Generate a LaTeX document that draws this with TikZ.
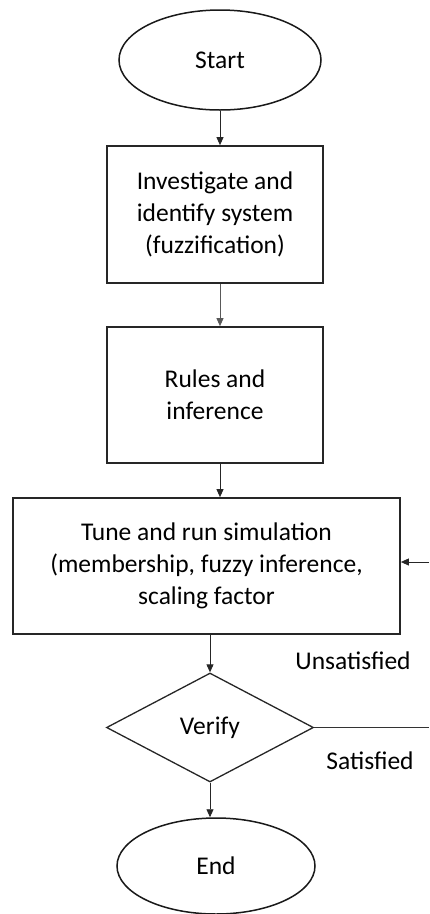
\documentclass[tikz,border=0pt]{standalone}
\usepackage{fontspec}
\setmainfont{Carlito}
\usetikzlibrary{shapes.geometric, arrows.meta}

\tikzset{
    terminal/.style={ellipse, draw=black!90, line width=1.5pt, minimum width=202pt, minimum height=100pt, inner sep=0pt},
    process/.style={rectangle, draw=black!85, line width=1.7pt, align=center, inner sep=0pt},
    decision/.style={diamond, draw=black!85, line width=1.3pt, minimum width=207pt, minimum height=109pt, inner sep=0pt},
    flow/.style={draw=black!85, line width=0.9pt, -{Triangle[length=8pt, width=7pt]}},
    branch/.style={draw=black!80, line width=0.9pt},
}

\begin{document}
\begin{tikzpicture}[x=1pt, y=-1pt, font=\fontsize{25.5}{32}\selectfont]
    \useasboundingbox (0,0) rectangle (429,914);

    % Nodes
    \node[terminal] (start) at (220,60) {Start};
    \node[process, minimum width=216pt, minimum height=137pt] (ident) at (215,214.5) {Investigate and\\identify system\\(fuzzification)};
    \node[process, minimum width=216pt, minimum height=136pt] (rules) at (215,395) {Rules and\\inference};
    \node[process, minimum width=387pt, minimum height=136pt] (tune) at (206.5,566) {Tune and run simulation\\(membership, fuzzy inference,\\scaling factor};
    \node[decision] (verify) at (210,727.5) {Verify};
    \node[terminal, minimum width=198pt, minimum height=96pt] (end) at (216,866) {End};

    % Labels
    \node (unsat) at (353,661) {Unsatisfied};
    \node (sat) at (370,761) {Satisfied};

    % Edge of the picture
    \coordinate (loopA) at (429,727.5);
    \coordinate (loopB) at (429,562);

    % Arrows
    \draw[flow] (start.south) -- (start.south |- ident.north);
    \draw[flow, draw=black!65] (start.south |- ident.south) -- (start.south |- rules.north);
    \draw[flow] (start.south |- rules.south) -- (start.south |- tune.north);
    \draw[flow] (verify.north |- tune.south) -- (verify.north);
    \draw[flow] (verify.south) -- (verify.south |- end.north);

    % Feedback line
    \draw[branch] (verify.east) -- (loopA);
    \draw[flow] (loopB) -- (loopB -| tune.east);
\end{tikzpicture}
\end{document}
